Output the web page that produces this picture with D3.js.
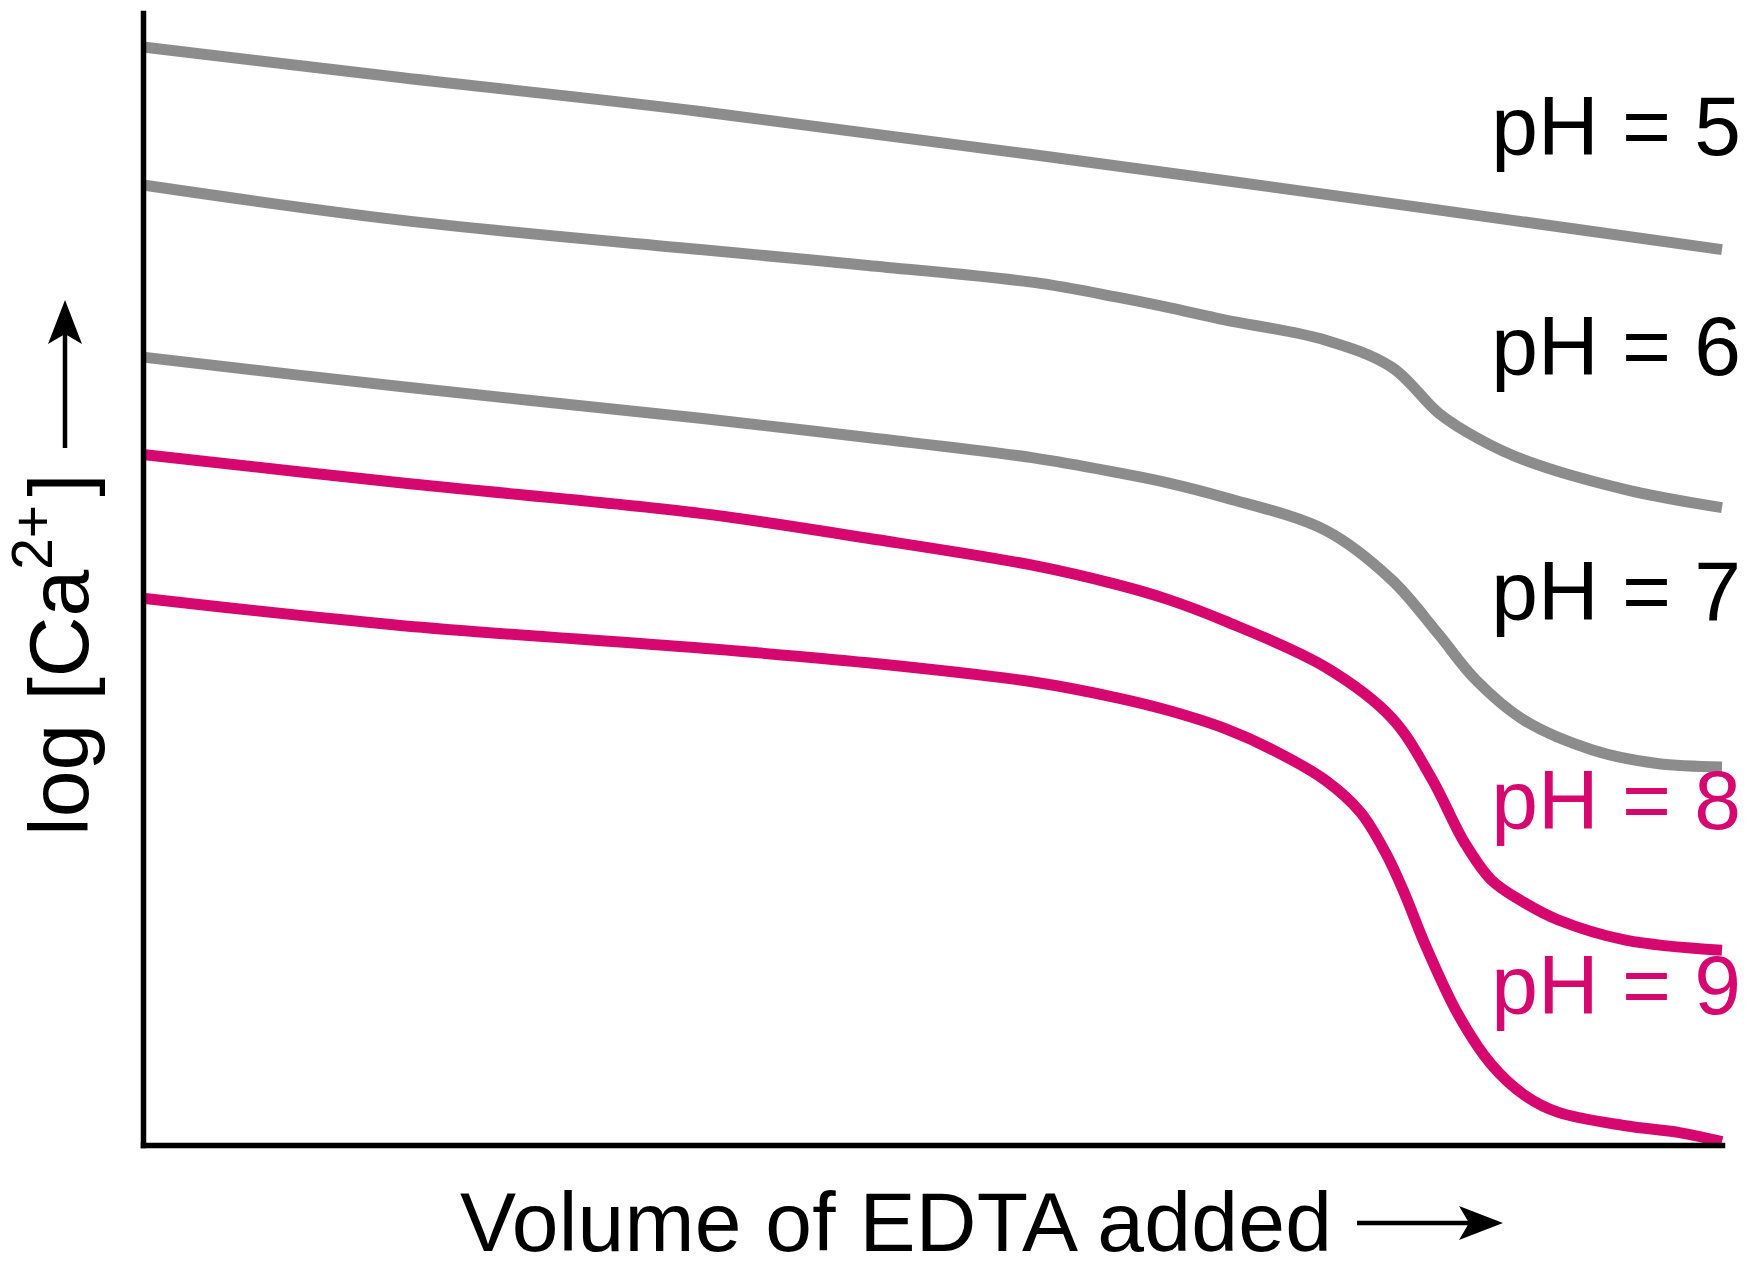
<!DOCTYPE html>
<html>
<head>
<meta charset="utf-8">
<script src="https://cdn.jsdelivr.net/npm/d3@7"></script>
<style>
  html, body { margin: 0; padding: 0; background: #fff; }
  svg { display: block; }
  text { font-family: "Liberation Sans", Arial, Helvetica, sans-serif; }
</style>
</head>
<body>
<div id="chart"></div>
<script>
// volume of EDTA (0-100, relative) vs log[Ca2+] (arbitrary units)
var ph5 = [[0,9.70],[16.3,9.43],[35.3,9.13],[68.5,8.52],[100,7.91]];
var ph6 = [[0,8.48],[16.3,8.17],[35.3,7.91],[45.9,7.77],[56.4,7.62],[61.7,7.49],[64.9,7.40],
           [68.5,7.29],[74.9,7.11],[79.1,6.87],[82.1,6.46],[84.7,6.23],[87.5,6.05],[93.9,5.79],[100,5.63]];
var ph7 = [[0,6.96],[16.3,6.70],[35.3,6.42],[45.9,6.25],[56.4,6.07],[61.7,5.94],[64.9,5.85],
           [68.5,5.72],[74.9,5.43],[79.1,4.99],[82.0,4.52],[84.4,4.11],[87.5,3.75],[91.8,3.49],
           [95.9,3.37],[100,3.34]];
var ph8 = [[0,6.10],[16.3,5.85],[35.3,5.58],[45.9,5.36],[56.4,5.12],[61.7,4.95],[64.9,4.82],
           [68.5,4.63],[74.9,4.22],[79.1,3.77],[81.6,3.24],[83.7,2.67],[85.4,2.34],[87.5,2.14],
           [89.6,1.99],[93.9,1.81],[100,1.72]];
var ph9 = [[0,4.83],[16.3,4.59],[35.3,4.39],[45.9,4.26],[56.4,4.09],[61.7,3.95],[64.9,3.84],
           [68.5,3.68],[71.7,3.48],[74.9,3.22],[77.1,2.94],[78.7,2.58],[79.9,2.22],[81.2,1.77],
           [83.3,1.15],[85.4,0.71],[87.5,0.44],[89.6,0.29],[93.9,0.17],[97.3,0.11],[100,0.03]];

var labels = ["pH = 5", "pH = 6", "pH = 7", "pH = 8", "pH = 9"];
var labelY = [8.75, 6.80, 4.64, 2.79, 1.16];   // baseline of each label, in y units
var seriesColor = ["#8c8c8c", "#8c8c8c", "#8c8c8c", "#d6086f", "#d6086f"];
var labelColor = ["#000", "#000", "#000", "#d6086f", "#d6086f"];

var width = 1745, height = 1271;
var margin = {top: 13, right: 23, bottom: 126, left: 143};

var x = d3.scaleLinear().domain([0, 100]).range([margin.left, width - margin.right]);
var y = d3.scaleLinear().domain([0, 10]).range([height - margin.bottom, margin.top]);

var svg = d3.select("#chart").append("svg")
    .attr("width", width)
    .attr("height", height);

var line = d3.line()
    .x(function(d) { return x(d[0]); })
    .y(function(d) { return y(d[1]); })
    .curve(d3.curveCatmullRom.alpha(0.5));

var series = [ph5, ph6, ph7, ph8, ph9];

svg.append("g")
  .selectAll("path")
  .data(series)
  .enter().append("path")
    .attr("d", line)
    .attr("fill", "none")
    .attr("stroke", function(d, i) { return seriesColor[i]; })
    .attr("stroke-width", 11)
    .attr("stroke-linecap", "butt");

// axes: plain lines, no ticks
svg.append("g")
    .attr("transform", "translate(0," + y(0) + ")")
    .call(d3.axisBottom(x).tickValues([]).tickSizeOuter(0));
svg.append("g")
    .attr("transform", "translate(" + x(0) + ",0)")
    .call(d3.axisLeft(y).tickValues([]).tickSizeOuter(0));
svg.selectAll(".domain")
    .attr("stroke", "#000")
    .attr("stroke-width", 5.5)
    .attr("stroke-linecap", "square");

// curve labels
svg.append("g")
  .selectAll("text")
  .data(labels)
  .enter().append("text")
    .attr("x", width - 4)
    .attr("y", function(d, i) { return y(labelY[i]); })
    .attr("text-anchor", "end")
    .attr("font-size", 84)
    .attr("fill", function(d, i) { return labelColor[i]; })
    .text(function(d) { return d; });

function arrow(g, len) {
  g.append("line")
    .attr("x1", 0).attr("y1", 0).attr("x2", len - 30).attr("y2", 0)
    .attr("stroke", "#000").attr("stroke-width", 4.5);
  g.append("path")
    .attr("d", "M" + len + ",0L" + (len - 44) + ",-17L" + (len - 34) + ",0L" + (len - 44) + ",17Z")
    .attr("fill", "#000");
}

// x axis title
svg.append("text")
    .attr("x", 460)
    .attr("y", 1251)
    .attr("font-size", 84)
    .attr("textLength", 872)
    .text("Volume of EDTA added");
arrow(svg.append("g").attr("transform", "translate(1357,1223)"), 146);

// y axis title
var yt = svg.append("text")
    .attr("transform", "translate(88,836) rotate(-90)")
    .attr("font-size", 84);
yt.append("tspan").text("log [Ca");
yt.append("tspan").attr("dy", -36).attr("font-size", 57).text("2+");
yt.append("tspan").attr("dy", 36).attr("dx", 8).text("]");
arrow(svg.append("g").attr("transform", "translate(65,448) rotate(-90)"), 148);
</script>
</body>
</html>
